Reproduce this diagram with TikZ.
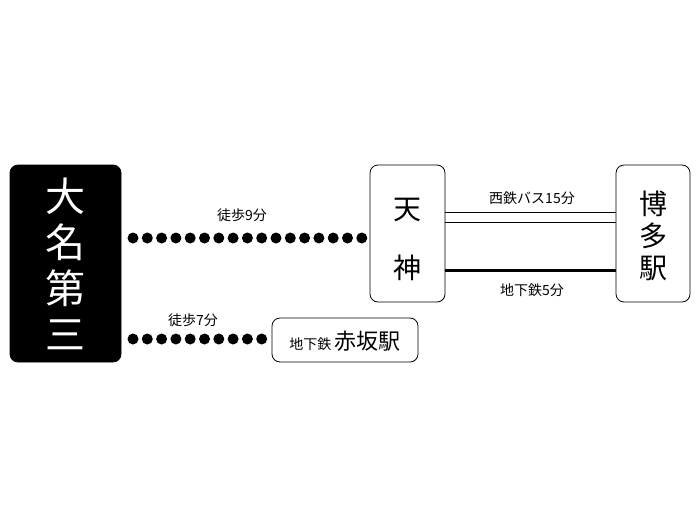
\documentclass[tikz,border=0pt]{standalone}
\usepackage{fontspec}
\setmainfont{Noto Sans CJK JP}
\begin{document}
\begin{tikzpicture}[x=1pt,y=-1pt,
  stn/.style={draw,rounded corners=8pt,line width=0.8pt,inner sep=0pt},
  lbl/.style={font=\fontsize{14}{16}\selectfont},
  dot/.style={circle,fill=black,minimum size=11pt,inner sep=0pt}]
\useasboundingbox (0,0) rectangle (700,525);
\node[stn,fill=black,minimum width=111pt,minimum height=197pt] (dm) at (65.5,263.5) {};
\node[text=white,font=\fontsize{40}{46}\selectfont,align=center] (dmt) at (65.5,263.5) {大\\名\\第\\三};
\node[stn,minimum width=75pt,minimum height=137pt] (tj) at (407.5,233.5) {};
\node[font=\fontsize{28}{30}\selectfont] (tj1) at (407.5,210) {天};
\node[font=\fontsize{28}{30}\selectfont] (tj2) at (407.5,268) {神};
\node[stn,minimum width=74pt,minimum height=137pt] (hk) at (653,233.5) {};
\node[font=\fontsize{28}{32}\selectfont,align=center] (hkt) at (653,236) {博\\多\\駅};
\node[stn,minimum width=146pt,minimum height=44pt] (ak) at (345,340) {};
\node (akt) at (345,341) {\fontsize{14}{16}\selectfont 地下鉄 \fontsize{22}{24}\selectfont 赤坂駅};
\foreach \i in {0,...,16} \node[dot] (a\i) at (133+\i*14.3,238) {};
\foreach \i in {0,...,9} \node[dot] (b\i) at (133+\i*14.3,339) {};
\node[lbl] (w9) at (242,215) {徒歩9分};
\node[lbl] (w7) at (193,320) {徒歩7分};
\coordinate (t1) at (tj.east |- 0,212); \coordinate (h1) at (hk.west |- 0,212);
\coordinate (t2) at (tj.east |- 0,222); \coordinate (h2) at (hk.west |- 0,222);
\coordinate (t3) at (tj.east |- 0,270); \coordinate (h3) at (hk.west |- 0,270);
\draw[line width=1pt] (t1) -- (h1);
\draw[line width=1pt] (t2) -- (h2);
\draw[line width=3pt] (t3) -- (h3);
\node[lbl] (bus) at (532,198) {西鉄バス15分};
\node[lbl] (sub) at (532,290) {地下鉄5分};
\end{tikzpicture}
\end{document}
